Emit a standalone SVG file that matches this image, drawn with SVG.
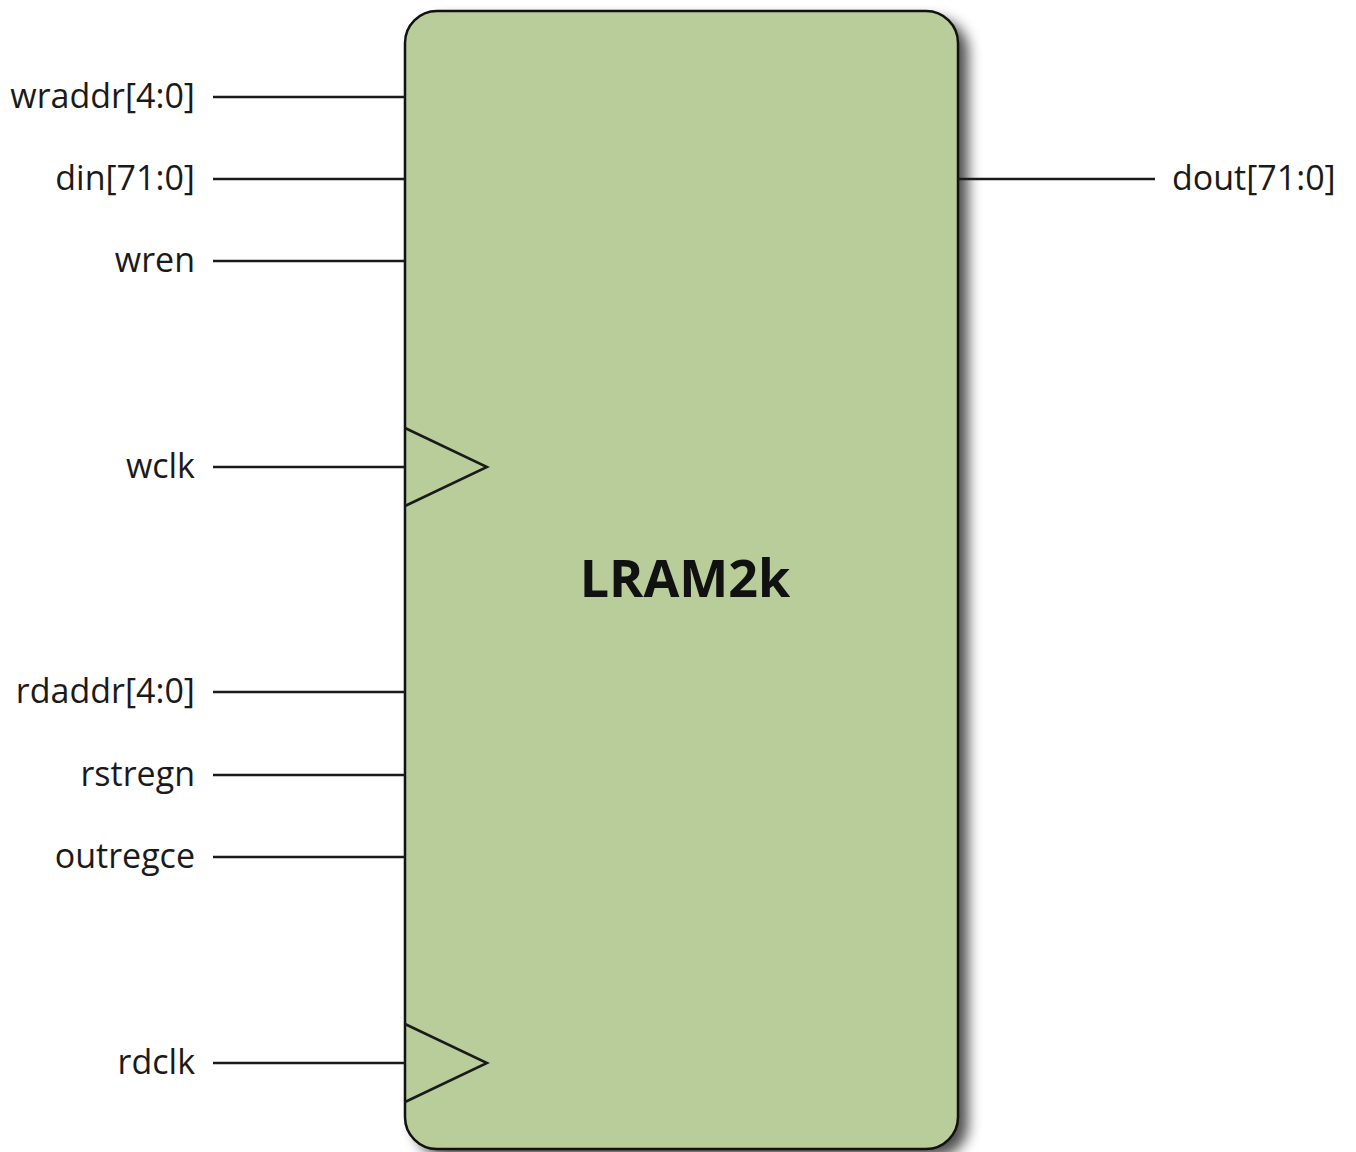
<svg xmlns="http://www.w3.org/2000/svg" width="1356" height="1152" viewBox="0 0 1356 1152">
<style>
.lbl{font-family:"Open Sans","Noto Sans",sans-serif;font-size:34px;fill:#1a1a1a}
.w{stroke:#1a1a1a;stroke-width:2.5;fill:none}
.title{font-family:"Open Sans","Noto Sans",sans-serif;font-size:52px;font-weight:bold;fill:#111}
</style>
<defs>
<filter id="sh" x="-10%" y="-10%" width="130%" height="130%">
<feGaussianBlur stdDeviation="7"/>
</filter>
</defs>
<rect width="1356" height="1152" fill="#fff"/>
<g id="block">
<rect x="415" y="19" width="553" height="1138" rx="32" fill="#000" opacity="0.7" filter="url(#sh)"/>
<rect x="405" y="11" width="553" height="1138" rx="32" fill="#b9cd9a" stroke="#111" stroke-width="2.5"/>
<polyline class="w" points="405,428 487,467 405,506"/>
<polyline class="w" points="405,1024 487,1063 405,1102"/>
<text class="title" x="685" y="597" text-anchor="middle">LRAM2k</text>
</g>
<g id="connectors">
<line class="w" x1="213" y1="97" x2="405" y2="97"/>
<line class="w" x1="213" y1="179" x2="405" y2="179"/>
<line class="w" x1="213" y1="261" x2="405" y2="261"/>
<line class="w" x1="213" y1="467" x2="405" y2="467"/>
<line class="w" x1="213" y1="692" x2="405" y2="692"/>
<line class="w" x1="213" y1="775" x2="405" y2="775"/>
<line class="w" x1="213" y1="857" x2="405" y2="857"/>
<line class="w" x1="213" y1="1063" x2="405" y2="1063"/>
<line class="w" x1="958" y1="179" x2="1155" y2="179"/>
</g>
<g id="labels">
<text class="lbl" x="195" y="108" text-anchor="end">wraddr[4:0]</text>
<text class="lbl" x="195" y="190" text-anchor="end">din[71:0]</text>
<text class="lbl" x="195" y="272" text-anchor="end">wren</text>
<text class="lbl" x="195" y="478" text-anchor="end">wclk</text>
<text class="lbl" x="195" y="703" text-anchor="end">rdaddr[4:0]</text>
<text class="lbl" x="195" y="786" text-anchor="end">rstregn</text>
<text class="lbl" x="195" y="868" text-anchor="end">outregce</text>
<text class="lbl" x="195" y="1074" text-anchor="end">rdclk</text>
<text class="lbl" x="1172" y="190">dout[71:0]</text>
</g>
</svg>
